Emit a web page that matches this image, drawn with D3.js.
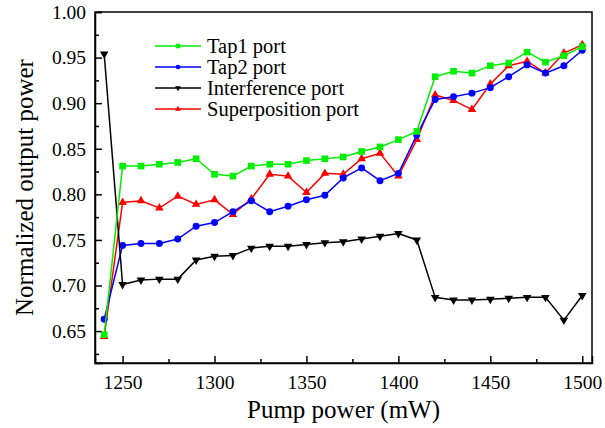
<!DOCTYPE html>
<html>
<head>
<meta charset="utf-8">
<script src="https://cdn.jsdelivr.net/npm/d3@7"></script>
<style>
  body { margin: 0; background: #fff; }
</style>
</head>
<body>
<div id="chart"></div>
<script>
var FONT = "'Liberation Serif', 'Times New Roman', Times, serif";

// pump power (mW)
var pump = [1240, 1250, 1260, 1270, 1280, 1290, 1300, 1310, 1320, 1330, 1340, 1350, 1360, 1370,
            1380, 1390, 1400, 1410, 1420, 1430, 1440, 1450, 1460, 1470, 1480, 1490, 1500];

var tap1 = [0.646, 0.831, 0.831, 0.833, 0.835, 0.839, 0.822, 0.820, 0.831, 0.833, 0.833, 0.837, 0.839, 0.841,
            0.847, 0.852, 0.860, 0.869, 0.929, 0.935, 0.933, 0.941, 0.944, 0.956, 0.945, 0.952, 0.962];
var tap2 = [0.663, 0.744, 0.746, 0.746, 0.751, 0.765, 0.769, 0.781, 0.793, 0.781, 0.787, 0.794, 0.799, 0.818,
            0.829, 0.815, 0.823, 0.865, 0.904, 0.907, 0.911, 0.917, 0.929, 0.942, 0.933, 0.941, 0.958];
var interference = [0.954, 0.701, 0.706, 0.707, 0.707, 0.728, 0.732, 0.733, 0.741, 0.743, 0.743, 0.745, 0.747, 0.748,
            0.751, 0.754, 0.757, 0.750, 0.687, 0.684, 0.684, 0.685, 0.686, 0.687, 0.687, 0.662, 0.689];
var superposition = [0.644, 0.791, 0.793, 0.785, 0.798, 0.789, 0.794, 0.778, 0.795, 0.822, 0.820, 0.802, 0.823, 0.822,
            0.839, 0.845, 0.820, 0.860, 0.909, 0.903, 0.893, 0.921, 0.941, 0.946, 0.933, 0.955, 0.964];

var xTicks = [1250, 1300, 1350, 1400, 1450, 1500];
var xMinor = [1275, 1325, 1375, 1425, 1475];
var yTicks = [0.65, 0.70, 0.75, 0.80, 0.85, 0.90, 0.95, 1.00];
var yMinor = [0.625, 0.675, 0.725, 0.775, 0.825, 0.875, 0.925, 0.975];

var margin = {top: 12, right: 13, bottom: 65, left: 95},
    width = 605 - margin.left - margin.right,
    height = 428 - margin.top - margin.bottom;

var svg = d3.select("#chart")
  .append("svg")
  .attr("width", 605)
  .attr("height", 428)
  .style("font-family", FONT);

var g = svg.append("g")
  .attr("transform", "translate(" + margin.left + "," + margin.top + ")");

var x = d3.scaleLinear().domain([1235, 1505.3]).range([0, width]);
var y = d3.scaleLinear().domain([0.615, 1.0]).range([height, 0]);

// frame
g.append("rect")
  .attr("width", width)
  .attr("height", height)
  .attr("fill", "none")
  .attr("stroke", "#000")
  .attr("stroke-width", 1.5);

// axes, ticks pointing inward
g.append("g")
  .attr("transform", "translate(0," + height + ")")
  .call(d3.axisBottom(x).tickValues(xTicks).tickSize(-7).tickPadding(12).tickFormat(d3.format("d")));
g.append("g")
  .attr("transform", "translate(0," + height + ")")
  .call(d3.axisBottom(x).tickValues(xMinor).tickSize(-4).tickFormat(""))
  .call(function(a) { a.select(".domain").remove(); });

g.append("g")
  .call(d3.axisLeft(y).tickValues(yTicks).tickSize(-7).tickPadding(9).tickFormat(d3.format(".2f")));
g.append("g")
  .call(d3.axisLeft(y).tickValues(yMinor).tickSize(-4).tickFormat(""))
  .call(function(a) { a.select(".domain").remove(); });

g.selectAll(".domain").attr("stroke-width", 1.5);
g.selectAll(".tick line").attr("stroke-width", 1.5);
g.selectAll(".tick text")
  .attr("font-family", FONT)
  .attr("font-size", 19.5)
  .attr("fill", "#000");

// axis titles
svg.append("text")
  .attr("x", margin.left + width / 2)
  .attr("y", 418)
  .attr("text-anchor", "middle")
  .attr("font-family", FONT)
  .attr("font-size", 25)
  .text("Pump power (mW)");

svg.append("text")
  .attr("transform", "translate(33," + (margin.top + height / 2) + ") rotate(-90)")
  .attr("text-anchor", "middle")
  .attr("font-family", FONT)
  .attr("font-size", 25)
  .text("Normalized output power");

var series = [
  {name: "Superposition port", values: superposition, color: "#ff0000", marker: d3.symbolTriangle, size: 32, rot: 0},
  {name: "Tap2 port", values: tap2, color: "#0000ff", marker: d3.symbolCircle, size: 38, rot: 0},
  {name: "Interference port", values: interference, color: "#000000", marker: d3.symbolTriangle, size: 32, rot: 180},
  {name: "Tap1 port", values: tap1, color: "#00ee00", marker: d3.symbolSquare, size: 44, rot: 0}
];

var line = d3.line()
  .x(function(d) { return x(d[0]); })
  .y(function(d) { return y(d[1]); });

series.forEach(function(s) {
  var pts = pump.map(function(p, i) { return [p, s.values[i]]; });
  g.append("path")
    .datum(pts)
    .attr("fill", "none")
    .attr("stroke", s.color)
    .attr("stroke-width", 1.5)
    .attr("d", line);
  g.selectAll(null)
    .data(pts)
    .enter()
    .append("path")
    .attr("d", d3.symbol().type(s.marker).size(s.size))
    .attr("transform", function(d) { return "translate(" + x(d[0]) + "," + y(d[1]) + ") rotate(" + s.rot + ")"; })
    .attr("fill", s.color);
});

// legend
var legendOrder = [series[3], series[1], series[2], series[0]];
var legend = g.append("g").attr("transform", "translate(60,34)");
legendOrder.forEach(function(s, i) {
  var row = legend.append("g").attr("transform", "translate(0," + (i * 21) + ")");
  row.append("line")
    .attr("x1", 0).attr("x2", 46)
    .attr("stroke", s.color)
    .attr("stroke-width", 1.5);
  row.append("path")
    .attr("d", d3.symbol().type(s.marker).size(s.size * 0.45))
    .attr("transform", "translate(23,0) rotate(" + s.rot + ")")
    .attr("fill", s.color);
  row.append("text")
    .attr("x", 52)
    .attr("y", 6.5)
    .attr("font-family", FONT)
    .attr("font-size", 20.5)
    .text(s.name);
});
</script>
</body>
</html>
